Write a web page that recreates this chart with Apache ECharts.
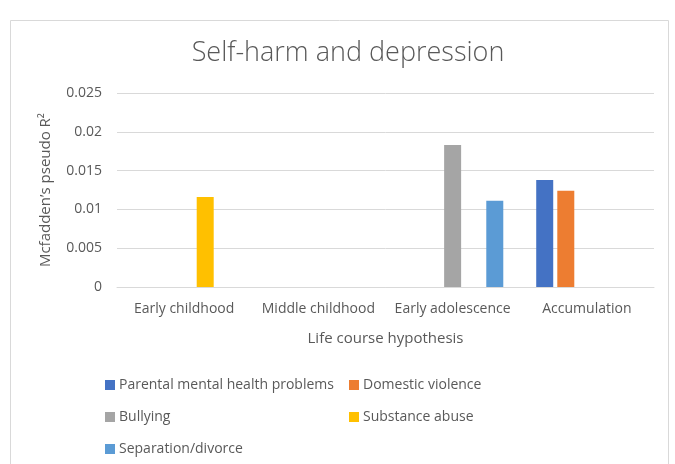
<!DOCTYPE html>
<html>
<head>
<meta charset="utf-8">
<script src="https://cdn.jsdelivr.net/npm/echarts@6/dist/echarts.min.js"></script>
<style>
  html, body { margin: 0; padding: 0; background: #fff; }
  #chart { width: 675px; height: 464px; }
</style>
</head>
<body>
<div id="chart"></div>
<script>
// Life-course stages on the x axis
const categories = ['Early childhood', 'Middle childhood', 'Early adolescence', 'Accumulation'];

// McFadden's pseudo R² per adversity (null = not shown)
const parentalMentalHealth = [null, null, null, 0.0138];
const domesticViolence     = [null, null, null, 0.0124];
const bullying             = [null, null, 0.0183, null];
const substanceAbuse       = [0.0116, null, null, null];
const separationDivorce    = [null, null, 0.0111, null];

const yTicks = [0, 0.005, 0.01, 0.015, 0.02, 0.025];

const seriesDefs = [
  { name: 'Parental mental health problems', data: parentalMentalHealth, color: '#4472C4' },
  { name: 'Domestic violence', data: domesticViolence, color: '#ED7D31' },
  { name: 'Bullying', data: bullying, color: '#A5A5A5' },
  { name: 'Substance abuse', data: substanceAbuse, color: '#FFC000' },
  { name: 'Separation/divorce', data: separationDivorce, color: '#5B9BD5' }
];

const FONT = '"Open Sans", sans-serif';
const TXT = '#595959';

const chart = echarts.init(document.getElementById('chart'), null, { renderer: 'canvas' });

const legendBase = {
  orient: 'vertical',
  icon: 'rect',
  itemWidth: 10,
  itemHeight: 10,
  itemGap: 14,
  textStyle: { color: TXT, fontFamily: FONT, fontSize: 14, lineHeight: 18, padding: [0, 0, 0, -1] },
  padding: 0
};

chart.setOption({
  animation: false,
  backgroundColor: '#fff',
  graphic: [{
    type: 'rect',
    shape: { x: 10.5, y: 20.5, width: 658, height: 470 },
    style: { fill: 'none', stroke: '#d9d9d9', lineWidth: 1 },
    silent: true
  }],
  title: {
    text: 'Self-harm and depression',
    left: 343,
    textAlign: 'center',
    top: 35,
    textStyle: { color: TXT, fontFamily: FONT, fontSize: 27, fontWeight: 300 }
  },
  legend: [
    Object.assign({}, legendBase, {
      left: 105, top: 376,
      data: ['Parental mental health problems', 'Bullying', 'Separation/divorce']
    }),
    Object.assign({}, legendBase, {
      left: 349, top: 376,
      data: ['Domestic violence', 'Substance abuse']
    })
  ],
  grid: { left: 117, right: 21, top: 93, bottom: 177, containLabel: false },
  xAxis: {
    type: 'category',
    data: categories,
    name: 'Life course hypothesis',
    nameLocation: 'middle',
    nameGap: 44,
    nameTextStyle: { color: TXT, fontFamily: FONT, fontSize: 15 },
    axisLine: { lineStyle: { color: '#d9d9d9', width: 1 } },
    axisTick: { show: false },
    axisLabel: { color: TXT, fontFamily: FONT, fontSize: 14, margin: 15, interval: 0 }
  },
  yAxis: {
    type: 'value',
    min: yTicks[0],
    max: yTicks[yTicks.length - 1],
    interval: 0.005,
    name: 'Mcfadden\u2019s pseudo R\u00B2',
    nameLocation: 'middle',
    nameGap: 64,
    nameTextStyle: { color: TXT, fontFamily: FONT, fontSize: 15 },
    axisLine: { show: false },
    axisTick: { show: false },
    splitLine: { lineStyle: { color: '#d9d9d9', width: 1 } },
    axisLabel: {
      color: TXT, fontFamily: FONT, fontSize: 14, margin: 15,
      formatter: v => String(Math.round(v * 1000) / 1000)
    }
  },
  series: seriesDefs.map(s => ({
    type: 'bar',
    name: s.name,
    data: s.data,
    barWidth: 17,
    barGap: '24%',
    itemStyle: { color: s.color },
    emphasis: { disabled: true }
  }))
});
</script>
</body>
</html>
